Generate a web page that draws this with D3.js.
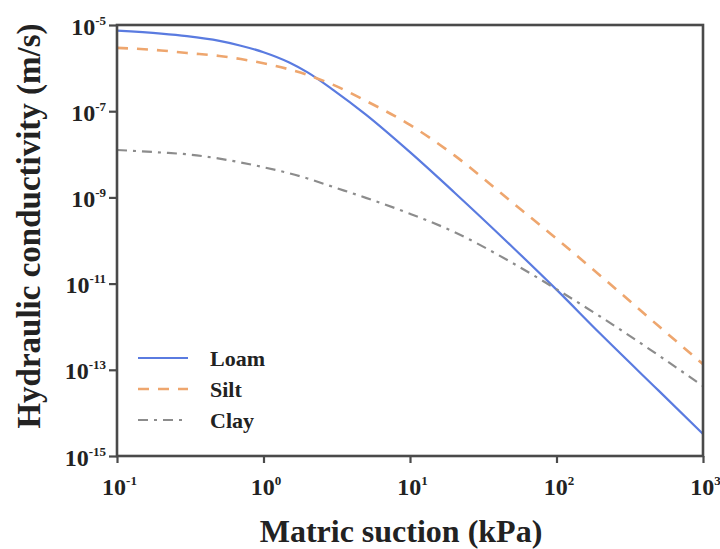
<!DOCTYPE html>
<html><head><meta charset="utf-8">
<script src="https://cdn.jsdelivr.net/npm/d3@7"></script>
<style>body{margin:0;background:#fff} svg{display:block}</style>
</head><body>
<svg id="chart" width="720" height="549"></svg>
<script>
// ---- data ----
const suction = [0.1, 0.2, 0.3, 0.5, 0.7, 1, 1.5, 2, 3, 5, 10, 20, 50, 100, 200, 500, 1000];
const loamK = [7.41e-6, 6.31e-6, 5.50e-6, 4.27e-6, 3.31e-6, 2.34e-6, 1.35e-6, 7.94e-7, 3.09e-7, 8.32e-8, 1.12e-8, 1.32e-9, 7.08e-11, 7.24e-12, 6.76e-13, 3.24e-14, 3.24e-15];
const siltK = [2.95e-6, 2.57e-6, 2.24e-6, 1.91e-6, 1.62e-6, 1.29e-6, 9.33e-7, 6.92e-7, 4.07e-7, 1.74e-7, 4.79e-8, 9.55e-9, 7.59e-10, 1.10e-10, 1.51e-11, 1.02e-12, 1.35e-13];
const clayK = [1.26e-8, 1.10e-8, 1.00e-8, 7.94e-9, 6.46e-9, 5.01e-9, 3.63e-9, 2.75e-9, 1.74e-9, 9.77e-10, 4.17e-10, 1.58e-10, 3.02e-11, 7.41e-12, 1.70e-12, 2.14e-13, 4.17e-14];
const seriesNames = ["Loam", "Silt", "Clay"];
const xTickValues = [0.1, 1, 10, 100, 1000];
const xTickExps = ["-1", "0", "1", "2", "3"];
const yTickValues = [1e-5, 1e-7, 1e-9, 1e-11, 1e-13, 1e-15];
const yTickExps = ["-5", "-7", "-9", "-11", "-13", "-15"];
const xTitle = "Matric suction (kPa)";
const yTitle = "Hydraulic conductivity (m/s)";

// ---- drawing ----
const svg = d3.select("#chart");
const font = "'Liberation Serif','Times New Roman',serif";
const L = 117, R = 703, T = 25, B = 456;
const x = d3.scaleLog().domain([0.1, 1000]).range([L, R]);
const y = d3.scaleLog().domain([1e-15, 1e-5]).range([B, T]);

const styles = {
  Loam: {color: "#5a7be0", dash: null, width: 2.2},
  Silt: {color: "#eea66e", dash: "11,9", width: 2.6},
  Clay: {color: "#8c8c8c", dash: "10,6,3,6", width: 2.2}
};
const seriesData = {Loam: loamK, Silt: siltK, Clay: clayK};

const line = d3.line().x(d => x(d[0])).y(d => y(d[1])).curve(d3.curveMonotoneX);
const plot = svg.append("g");
plot.append("clipPath").attr("id", "clip").append("rect")
  .attr("x", L).attr("y", T).attr("width", R - L).attr("height", B - T);
seriesNames.forEach(name => {
  const s = styles[name];
  plot.append("path")
    .datum(suction.map((v, i) => [v, seriesData[name][i]]))
    .attr("clip-path", "url(#clip)")
    .attr("d", line)
    .attr("fill", "none")
    .attr("stroke", s.color)
    .attr("stroke-width", s.width)
    .attr("stroke-dasharray", s.dash);
});

// axes
const frameColor = "#4a4a4a";
const xAxis = svg.append("g").attr("transform", `translate(0,${B})`)
  .call(d3.axisBottom(x).tickValues(xTickValues).tickSize(7).tickFormat(() => ""));
const yAxis = svg.append("g").attr("transform", `translate(${L},0)`)
  .call(d3.axisLeft(y).tickValues(yTickValues).tickSize(8).tickFormat(() => ""));
[xAxis, yAxis].forEach(a => {
  a.select(".domain").remove();
  a.selectAll(".tick line").attr("stroke", frameColor).attr("stroke-width", 2.2);
});

xAxis.selectAll(".tick").each(function(d, i) {
  const t = d3.select(this).append("text")
    .attr("x", 2).attr("y", 39)
    .attr("text-anchor", "middle")
    .attr("fill", "#222")
    .style("font-family", font).style("font-weight", "bold").style("font-size", "24px");
  t.append("tspan").text("10");
  t.append("tspan").attr("dy", -10).style("font-size", "13px").text(xTickExps[i]);
});
yAxis.selectAll(".tick").each(function(d, i) {
  const t = d3.select(this).append("text")
    .attr("x", -11).attr("y", 9)
    .attr("text-anchor", "end")
    .attr("fill", "#222")
    .style("font-family", font).style("font-weight", "bold").style("font-size", "24px");
  t.append("tspan").text("10");
  t.append("tspan").attr("dy", -10).style("font-size", "13px").text(yTickExps[i]);
});

// frame
svg.append("rect")
  .attr("x", L).attr("y", T).attr("width", R - L).attr("height", B - T)
  .attr("fill", "none").attr("stroke", frameColor).attr("stroke-width", 2.6);

// titles
svg.append("text")
  .attr("x", 401).attr("y", 542)
  .attr("text-anchor", "middle").attr("fill", "#222")
  .style("font-family", font).style("font-weight", "bold").style("font-size", "32px")
  .text(xTitle);
svg.append("text")
  .attr("transform", "translate(40,226) rotate(-90)")
  .attr("text-anchor", "middle").attr("fill", "#222")
  .style("font-family", font).style("font-weight", "bold").style("font-size", "33px")
  .text(yTitle);

// legend
const legend = svg.append("g");
seriesNames.forEach((name, i) => {
  const s = styles[name];
  const ly = 358 + i * 31;
  legend.append("line")
    .attr("x1", 138).attr("x2", 188).attr("y1", ly).attr("y2", ly)
    .attr("stroke", s.color).attr("stroke-width", s.width)
    .attr("stroke-dasharray", s.dash);
  legend.append("text")
    .attr("x", 210).attr("y", ly + 8)
    .attr("fill", "#222")
    .style("font-family", font).style("font-weight", "bold").style("font-size", "22px")
    .text(name);
});
</script>
</body></html>
